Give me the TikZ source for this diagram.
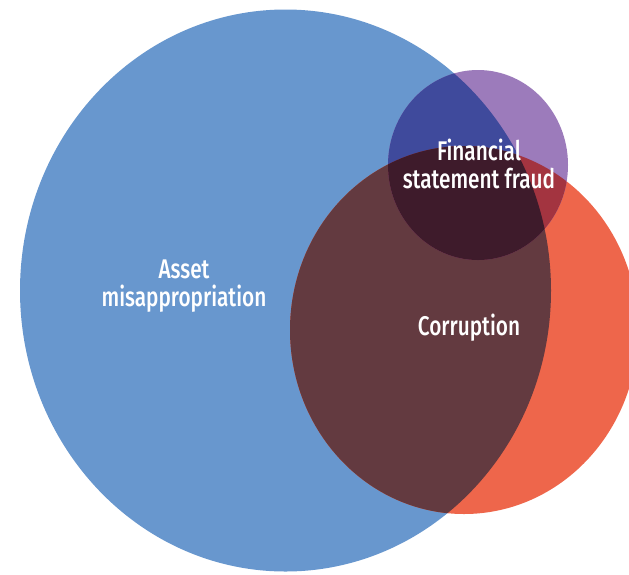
\documentclass[tikz,border=0pt]{standalone}
\usepackage{fontspec}
\setmainfont{Fira Sans Medium}[FakeStretch=0.77]
\definecolor{cblue}{HTML}{6897CE}
\definecolor{cpurple}{HTML}{9C7BBB}
\definecolor{cred}{HTML}{EE664B}
\definecolor{cbr}{HTML}{633A40}
\definecolor{cbp}{HTML}{3F4A9C}
\definecolor{crp}{HTML}{A33440}
\definecolor{call}{HTML}{3E1B2B}
\tikzset{lab/.style={text=white, align=center, font=\fontsize{27}{28}\selectfont, inner sep=0pt}}
\begin{document}
\begin{tikzpicture}[x=1pt,y=-1pt]
\useasboundingbox (0,0) rectangle (629,574);
\def\bluepath{(285.5,290.5) ellipse [x radius=265.5, y radius=281]}
\def\redpath{(464,330) ellipse [x radius=174, y radius=184]}
\def\purplepath{(478,165) ellipse [x radius=90, y radius=95]}
\fill[cblue] \bluepath;
\fill[cred] \redpath;
\fill[cpurple] \purplepath;
\begin{scope}
  \clip \bluepath;
  \fill[cbr] \redpath;
  \fill[cbp] \purplepath;
\end{scope}
\begin{scope}
  \clip \redpath;
  \fill[crp] \purplepath;
  \clip \bluepath;
  \fill[call] \purplepath;
\end{scope}
\node[lab] (asset) at (184,286) {Asset\\misappropriation};
\node[lab] (corr) at (469,328) {Corruption};
\node[lab] (fsf) at (479,164) {Financial\\statement fraud};
\end{tikzpicture}
\end{document}
